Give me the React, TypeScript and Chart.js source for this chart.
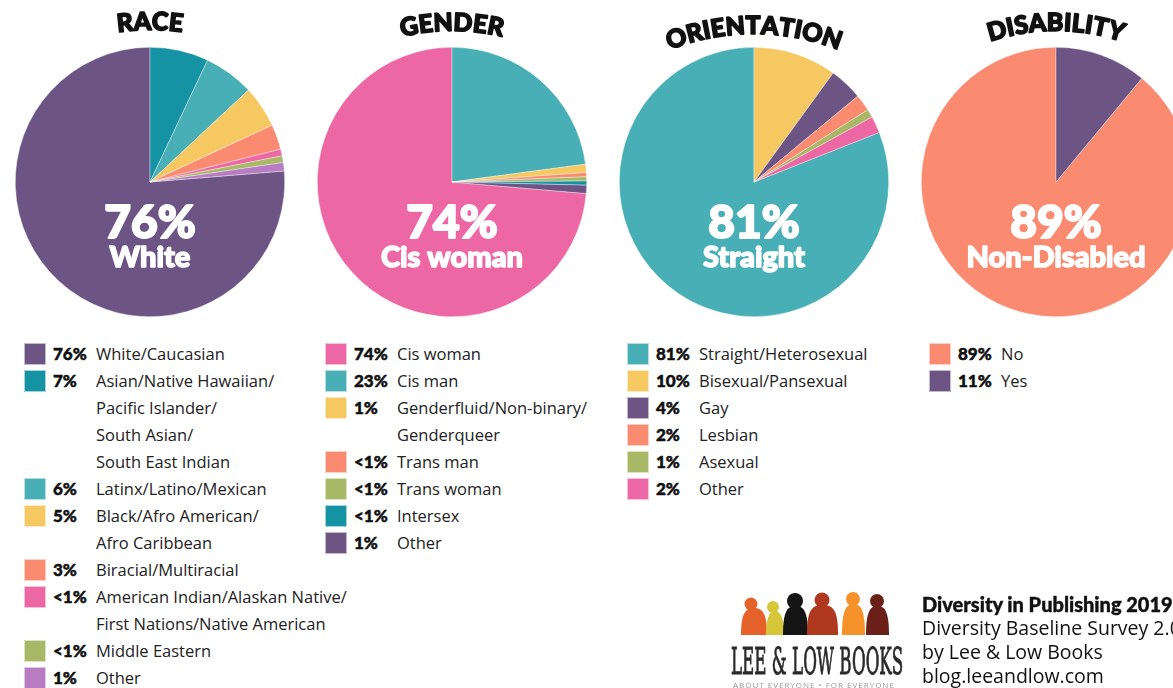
import React, { useEffect, useRef } from "react";
import { Chart, registerables } from "chart.js";
Chart.register(...registerables);

const PURPLE = "#6C5484";
const DTEAL = "#1593A5";
const TEAL = "#47AFB5";
const YELLOW = "#F6C862";
const SALMON = "#FA8A70";
const PINK = "#EC67A3";
const GREEN = "#A9B866";
const LILAC = "#B77CC1";

// RACE
const raceLabels = [
  ["White/Caucasian"],
  ["Asian/Native Hawaiian/", "Pacific Islander/", "South Asian/", "South East Indian"],
  ["Latinx/Latino/Mexican"],
  ["Black/Afro American/", "Afro Caribbean"],
  ["Biracial/Multiracial"],
  ["American Indian/Alaskan Native/", "First Nations/Native American"],
  ["Middle Eastern"],
  ["Other"],
];
const racePct = ["76%", "7%", "6%", "5%", "3%", "<1%", "<1%", "1%"];
const raceValues = [76, 7, 6, 5, 3, 0.8, 0.8, 1];
const raceColors = [PURPLE, DTEAL, TEAL, YELLOW, SALMON, PINK, GREEN, LILAC];

// GENDER
const genderLabels = [
  ["Cis woman"],
  ["Cis man"],
  ["Genderfluid/Non-binary/", "Genderqueer"],
  ["Trans man"],
  ["Trans woman"],
  ["Intersex"],
  ["Other"],
];
const genderPct = ["74%", "23%", "1%", "<1%", "<1%", "<1%", "1%"];
const genderValues = [74, 23, 1, 0.5, 0.5, 0.5, 1];
const genderColors = [PINK, TEAL, YELLOW, SALMON, GREEN, DTEAL, PURPLE];

// ORIENTATION
const orientLabels = [
  ["Straight/Heterosexual"],
  ["Bisexual/Pansexual"],
  ["Gay"],
  ["Lesbian"],
  ["Asexual"],
  ["Other"],
];
const orientPct = ["81%", "10%", "4%", "2%", "1%", "2%"];
const orientValues = [81, 10, 4, 2, 1, 2];
const orientColors = [TEAL, YELLOW, PURPLE, SALMON, GREEN, PINK];

// DISABILITY
const disabLabels = [["No"], ["Yes"]];
const disabPct = ["89%", "11%"];
const disabValues = [89, 11];
const disabColors = [SALMON, PURPLE];

const HEAVY = "Lato, 'Open Sans', sans-serif";
const BODY = "'Open Sans', Lato, sans-serif";

function drawArcText(ctx: CanvasRenderingContext2D, text: string, cx: number, baseY: number, R: number, spacing: number) {
  const chars = Array.from(text);
  const widths = chars.map((c) => ctx.measureText(c).width);
  const total = widths.reduce((a, b) => a + b, 0) + spacing * (chars.length - 1);
  const acy = baseY + R;
  let x = -total / 2;
  chars.forEach((c, i) => {
    const mid = x + widths[i] / 2;
    const th = mid / R;
    ctx.save();
    ctx.translate(cx + R * Math.sin(th), acy - R * Math.cos(th));
    ctx.rotate(th);
    ctx.textAlign = "center";
    ctx.textBaseline = "alphabetic";
    ctx.strokeText(c, 0, 0);
    ctx.fillText(c, 0, 0);
    ctx.restore();
    x += widths[i] + spacing;
  });
}

type PieProps = {
  cx: number;
  title: string;
  titleBase: number;
  titleR: number;
  values: number[];
  colors: string[];
  labels: string[][];
  bigText: string;
  smallText: string;
};

function Pie(p: PieProps) {
  const ref = useRef<HTMLCanvasElement>(null);
  useEffect(() => {
    if (!ref.current) return;
    const total = p.values.reduce((a, b) => a + b, 0);
    const deco = {
      id: "deco",
      afterDraw(chart: any) {
        const ctx = chart.ctx as CanvasRenderingContext2D;
        const arc = chart.getDatasetMeta(0).data[0];
        const x = arc.x;
        ctx.save();
        ctx.lineJoin = "round";
        ctx.fillStyle = "#111";
        ctx.strokeStyle = "#111";
        ctx.lineWidth = 1.6;
        ctx.font = `900 25px ${HEAVY}`;
        drawArcText(ctx, p.title, x, p.titleBase, p.titleR, 0);
        ctx.fillStyle = "#fff";
        ctx.strokeStyle = "#fff";
        ctx.textAlign = "center";
        ctx.textBaseline = "alphabetic";
        ctx.lineWidth = 2;
        ctx.font = `900 46px ${HEAVY}`;
        ctx.strokeText(p.bigText, x, 238);
        ctx.fillText(p.bigText, x, 238);
        ctx.lineWidth = 1.5;
        ctx.font = `900 29px ${HEAVY}`;
        ctx.strokeText(p.smallText, x, 267);
        ctx.fillText(p.smallText, x, 267);
        ctx.restore();
      },
    };
    const chart = new Chart(ref.current, {
      type: "pie",
      data: {
        labels: p.labels as any,
        datasets: [
          {
            data: p.values,
            backgroundColor: p.colors,
            borderColor: "rgba(255,255,255,0.6)",
            borderWidth: 0.6,
          },
        ],
      },
      options: {
        responsive: false,
        animation: false,
        rotation: (-360 * p.values[0]) / total,
        layout: { padding: { left: 15, right: 15, top: 47, bottom: 13 } },
        plugins: { legend: { display: false }, tooltip: { enabled: false } },
      },
      plugins: [deco],
    });
    return () => chart.destroy();
  }, []);
  return (
    <canvas
      ref={ref}
      width={300}
      height={330}
      style={{ position: "absolute", left: Math.round(p.cx - 150), top: 0, width: 300, height: 330, display: "block" }}
    />
  );
}

function Legend({ left, pct, labels, colors }: { left: number; pct: string[]; labels: string[][]; colors: string[] }) {
  const rows: React.ReactNode[] = [];
  labels.forEach((lines, i) => {
    lines.forEach((line, j) => {
      rows.push(
        <div key={`${i}-${j}`} style={{ position: "relative", height: 27, lineHeight: "27px", whiteSpace: "nowrap" }}>
          {j === 0 && (
            <div
              style={{
                position: "absolute",
                left: 0,
                top: 3,
                width: 22,
                height: 22,
                background: colors[i],
                boxShadow: "0 0 0 1px rgba(255,255,255,0.6) inset",
              }}
            />
          )}
          <div style={{ position: "absolute", left: 29, top: 0, display: "flex" }}>
            <span
              style={{
                minWidth: 43,
                fontWeight: 900,
                fontFamily: HEAVY,
                fontSize: 17,
                WebkitTextStroke: "0.5px #111",
                color: "#111",
              }}
            >
              {j === 0 ? pct[i] : ""}
            </span>
            <span>{line}</span>
          </div>
        </div>
      );
    });
  });
  return (
    <div style={{ position: "absolute", left, top: 340, fontFamily: BODY, fontSize: 16.5, color: "#222" }}>{rows}</div>
  );
}

function Logo() {
  const kids = [
    { c: "#E5622A", hx: 751, hy: 604, r: 6.5, x0: 741, x1: 767, top: 608 },
    { c: "#D6C63A", hx: 773, hy: 607, r: 6, x0: 766, x1: 784, top: 611 },
    { c: "#151515", hx: 795, hy: 601, r: 8, x0: 783, x1: 808, top: 606 },
    { c: "#B0381F", hx: 822, hy: 600, r: 7.5, x0: 807, x1: 838, top: 605 },
    { c: "#F6922A", hx: 853, hy: 599, r: 7, x0: 842, x1: 865, top: 604 },
    { c: "#6B2119", hx: 877, hy: 601, r: 7, x0: 866, x1: 889, top: 606 },
  ];
  return (
    <>
      <svg width={1173} height={688} style={{ position: "absolute", left: 0, top: 0 }}>
        {kids.map((k, i) => (
          <g key={i} fill={k.c}>
            <circle cx={k.hx} cy={k.hy} r={k.r} />
            <path
              d={`M ${k.x0} 635 C ${k.x0} ${k.top + 6}, ${k.x0 + 4} ${k.top}, ${(k.x0 + k.x1) / 2} ${k.top} C ${k.x1 - 4} ${k.top}, ${k.x1} ${k.top + 6}, ${k.x1} 635 Z`}
            />
          </g>
        ))}
      </svg>
      <div
        style={{
          position: "absolute",
          left: 731,
          top: 641,
          fontFamily: "'DejaVu Serif', serif",
          fontSize: 38,
          lineHeight: "40px",
          color: "#2a2a2a",
          whiteSpace: "nowrap",
          transform: "scaleX(0.44)",
          transformOrigin: "left top",
          WebkitTextStroke: "1px #2a2a2a",
        }}
      >
        LEE &amp; LOW BOOKS
      </div>
      <div
        style={{
          position: "absolute",
          left: 733,
          top: 679,
          fontFamily: BODY,
          fontSize: 8,
          letterSpacing: 1,
          color: "#999",
          whiteSpace: "nowrap",
        }}
      >
        ABOUT EVERYONE • FOR EVERYONE
      </div>
    </>
  );
}

export default function App() {
  return (
    <div
      style={{
        position: "fixed",
        left: 0,
        top: 0,
        width: 1173,
        height: 688,
        overflow: "hidden",
        background: "#fff",
      }}
    >
      <Pie cx={150} title="RACE" titleBase={30} titleR={220} values={raceValues} colors={raceColors} labels={raceLabels} bigText="76%" smallText="White" />
      <Pie cx={452} title="GENDER" titleBase={31} titleR={220} values={genderValues} colors={genderColors} labels={genderLabels} bigText="74%" smallText="Cis woman" />
      <Pie cx={754} title="ORIENTATION" titleBase={34} titleR={230} values={orientValues} colors={orientColors} labels={orientLabels} bigText="81%" smallText="Straight" />
      <Pie cx={1056} title="DISABILITY" titleBase={31} titleR={210} values={disabValues} colors={disabColors} labels={disabLabels} bigText="89%" smallText="Non-Disabled" />

      <Legend left={24} pct={racePct} labels={raceLabels} colors={raceColors} />
      <Legend left={325} pct={genderPct} labels={genderLabels} colors={genderColors} />
      <Legend left={627} pct={orientPct} labels={orientLabels} colors={orientColors} />
      <Legend left={929} pct={disabPct} labels={disabLabels} colors={disabColors} />

      <Logo />
      <div
        style={{
          position: "absolute",
          left: 922,
          top: 592,
          fontFamily: BODY,
          fontSize: 19.5,
          lineHeight: "24px",
          color: "#111",
          whiteSpace: "nowrap",
        }}
      >
        <div style={{ fontWeight: 900, fontFamily: HEAVY, fontSize: 20, WebkitTextStroke: "0.4px #111" }}>
          Diversity in Publishing 2019
        </div>
        <div>Diversity Baseline Survey 2.0</div>
        <div>by Lee &amp; Low Books</div>
        <div>blog.leeandlow.com</div>
      </div>
    </div>
  );
}
